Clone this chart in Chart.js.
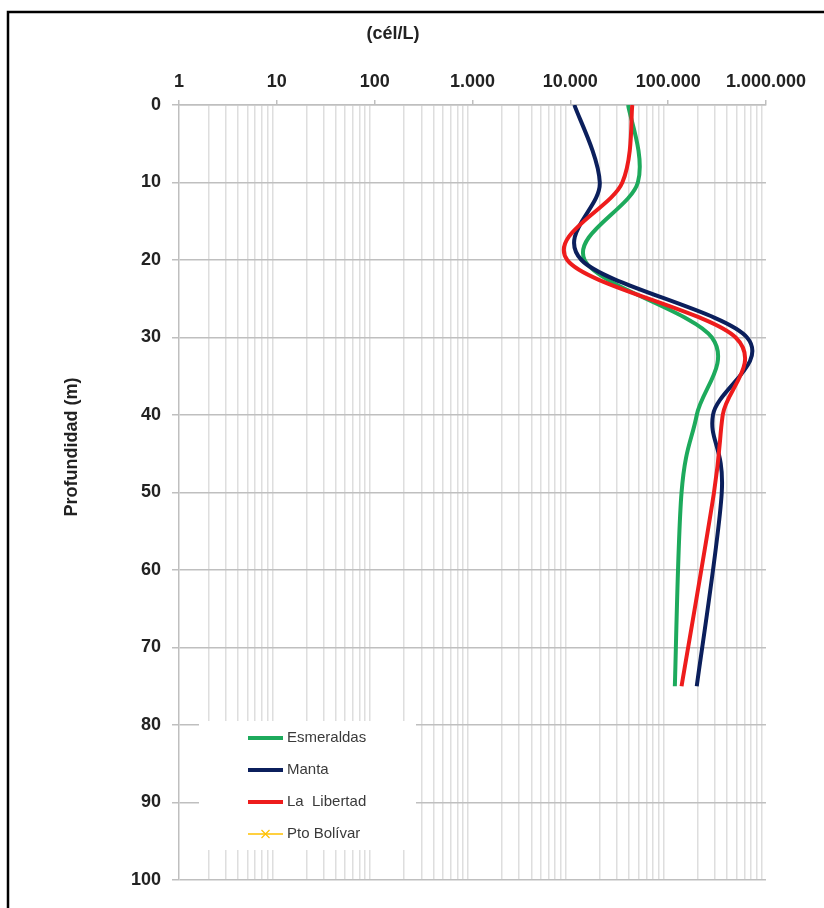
<!DOCTYPE html>
<html>
<head>
<meta charset="utf-8">
<script src="https://cdn.jsdelivr.net/npm/chart.js@4.4.1/dist/chart.umd.min.js"></script>
<style>
  html, body { margin: 0; padding: 0; background: #ffffff; overflow: hidden; }
  #wrap { position: relative; width: 824px; height: 908px; }
</style>
</head>
<body>
<div id="wrap"><canvas id="chart" width="824" height="908"></canvas></div>
<script>
// Depth profile of cell density (cells per litre) at four stations
const depths = [0, 10, 20, 30, 40, 50, 75];
const esmeraldas = [39000, 49000, 14000, 280000, 196000, 137000, 117000];
const manta = [11000, 20000, 13000, 640000, 287000, 353000, 196000];
const laLibertad = [43000, 34000, 9300, 490000, 361000, 294000, 137000];
const ptoBolivar = [];

const seriesNames = ['Esmeraldas', 'Manta', 'La  Libertad', 'Pto Bolívar'];
const seriesColors = ['#1daa5c', '#0b1f5c', '#ee1c1c', '#ffc000'];

const decadeValues = [1, 10, 100, 1000, 10000, 100000, 1000000];
const xTickLabels = ['1', '10', '100', '1.000', '10.000', '100.000', '1.000.000'];
const depthTicks = [0, 10, 20, 30, 40, 50, 60, 70, 80, 90, 100];

const xTitle = '(cél/L)';
const yTitle = 'Profundidad (m)';

// grid positions on the log axis: every 1..9 multiple of each decade
const xGridValues = [];
for (let i = 0; i < decadeValues.length - 1; i++) {
  for (let m = 1; m <= 9; m++) xGridValues.push(m * decadeValues[i]);
}
xGridValues.push(decadeValues[decadeValues.length - 1]);

const isDecade = v => decadeValues.some(d => Math.abs(d - v) < 1e-9 * d);

function profile(values) {
  return values.map((v, i) => ({ x: v, y: depths[i] }));
}

const FONT = "'Liberation Sans', Arial, sans-serif";
const GRID_MAJOR = '#bfbfbf';
const GRID_MINOR = '#dedede';

const frame = {
  id: 'frame',
  beforeDraw(chart) {
    const c = chart.ctx;
    c.save();
    c.fillStyle = '#ffffff';
    c.fillRect(0, 0, chart.width, chart.height);
    c.strokeStyle = '#000000';
    c.lineWidth = 2.5;
    c.beginPath();
    c.moveTo(8, chart.height);
    c.lineTo(8, 12);
    c.lineTo(chart.width, 12);
    c.stroke();
    c.restore();
  }
};

const titles = {
  id: 'titles',
  afterDraw(chart) {
    const c = chart.ctx;
    const a = chart.chartArea;
    c.save();
    c.fillStyle = '#222222';
    c.font = 'bold 18px ' + FONT;
    c.textAlign = 'center';
    c.textBaseline = 'middle';
    c.fillText(xTitle, a.left + 214, 34);
    c.translate(72, a.top + 342);
    c.rotate(-Math.PI / 2);
    c.fillText(yTitle, 0, 0);
    c.restore();
  }
};

const boxLegend = {
  id: 'boxLegend',
  beforeDatasetsDraw(chart) {
    const c = chart.ctx;
    const a = chart.chartArea;
    const left = a.left + 20, top = 721, w = 217, h = 129;
    c.save();
    c.fillStyle = '#ffffff';
    c.fillRect(left, top, w, h);
    c.font = '15px ' + FONT;
    c.textBaseline = 'middle';
    c.textAlign = 'left';
    chart.data.datasets.forEach((ds, i) => {
      const y = 738 + i * 32;
      const x0 = left + 49, x1 = left + 84;
      c.strokeStyle = ds.borderColor;
      c.lineWidth = ds.data.length ? 4 : 1.5;
      c.beginPath();
      c.moveTo(x0, y);
      c.lineTo(x1, y);
      c.stroke();
      if (!ds.data.length) {
        const cx = (x0 + x1) / 2, r = 4;
        c.lineWidth = 1.2;
        c.beginPath();
        c.moveTo(cx - r, y - r); c.lineTo(cx + r, y + r);
        c.moveTo(cx - r, y + r); c.lineTo(cx + r, y - r);
        c.stroke();
      }
      c.fillStyle = '#3a3a3a';
      c.fillText(ds.label, x1 + 4, y);
    });
    c.restore();
  }
};

// Catmull-Rom style control points (tangent = (next - prev) / 6), set on the
// library's own point elements before each line is stroked
const smoothProfile = {
  id: 'smoothProfile',
  beforeDatasetDraw(chart, args) {
    const meta = args.meta;
    const pts = meta.data;
    const n = pts.length;
    for (let i = 0; i < n; i++) {
      const p = pts[i];
      const prev = pts[Math.max(i - 1, 0)];
      const next = pts[Math.min(i + 1, n - 1)];
      const tx = (next.x - prev.x) / 6, ty = (next.y - prev.y) / 6;
      p.cp1x = p.x - tx; p.cp1y = p.y - ty;
      p.cp2x = p.x + tx; p.cp2y = p.y + ty;
    }
    if (meta.dataset) {
      meta.dataset._pointsUpdated = true;
      delete meta.dataset._path;
    }
  }
};

const seriesValues = [esmeraldas, manta, laLibertad, ptoBolivar];

new Chart(document.getElementById('chart'), {
  type: 'scatter',
  data: {
    datasets: seriesValues.map((vals, i) => ({
      label: seriesNames[i],
      data: profile(vals),
      showLine: true,
      borderColor: seriesColors[i],
      backgroundColor: seriesColors[i],
      borderWidth: 4,
      pointRadius: 0,
      pointStyle: i === 3 ? 'crossRot' : 'circle',
      tension: 0.4,
      order: seriesValues.length - i,
      fill: false
    }))
  },
  options: {
    responsive: false,
    animation: false,
    devicePixelRatio: 1,
    layout: { padding: { left: 0, top: 0, right: 58, bottom: 28 } },
    plugins: { legend: { display: false }, tooltip: { enabled: false }, title: { display: false } },
    scales: {
      x: {
        type: 'logarithmic',
        position: 'top',
        min: 1,
        max: 1000000,
        afterBuildTicks(scale) {
          scale.ticks = xGridValues.map(v => ({ value: v }));
        },
        afterFit(scale) { scale.height = 105; },
        border: { display: true, color: GRID_MAJOR, width: 1.5 },
        grid: {
          color: ctx => (ctx.tick && isDecade(ctx.tick.value)) ? 'rgba(0,0,0,0)' : GRID_MINOR,
          tickColor: ctx => (ctx.tick && isDecade(ctx.tick.value)) ? GRID_MAJOR : 'rgba(0,0,0,0)',
          lineWidth: 1.5,
          tickWidth: 1.5,
          tickLength: 5
        },
        ticks: {
          autoSkip: false,
          maxRotation: 0,
          padding: 7,
          color: '#222222',
          font: { family: FONT, size: 18, weight: 'bold' },
          callback(value) {
            const k = decadeValues.findIndex(d => Math.abs(d - value) < 1e-9 * d);
            return k >= 0 ? xTickLabels[k] : '';
          }
        }
      },
      y: {
        type: 'linear',
        reverse: true,
        min: 0,
        max: 100,
        afterBuildTicks(scale) {
          scale.ticks = depthTicks.map(v => ({ value: v }));
        },
        afterFit(scale) { scale.width = 179; },
        border: { display: true, color: GRID_MAJOR, width: 1.5 },
        grid: { color: GRID_MAJOR, lineWidth: 1.5, tickLength: 7 },
        ticks: {
          padding: 11,
          color: '#222222',
          font: { family: FONT, size: 18, weight: 'bold' }
        }
      }
    }
  },
  plugins: [frame, boxLegend, smoothProfile, titles]
});
</script>
</body>
</html>
